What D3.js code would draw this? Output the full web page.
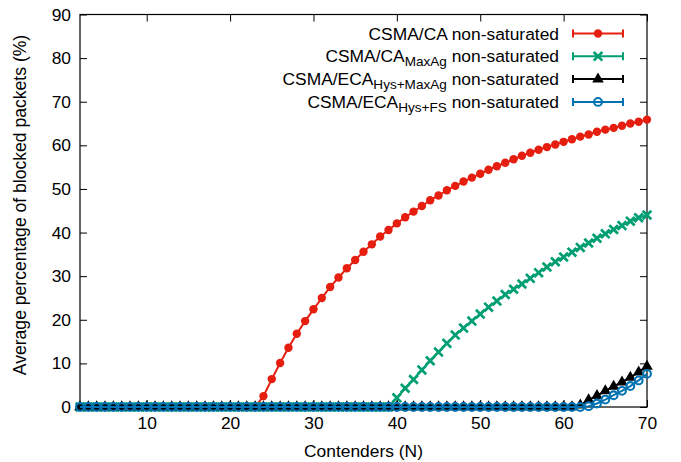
<!DOCTYPE html>
<html>
<head>
<meta charset="utf-8">
<script src="https://cdn.jsdelivr.net/npm/d3@7"></script>
<style>
  html, body { margin: 0; padding: 0; background: #fff; }
  svg { display: block; font-family: "Liberation Sans", Arial, Helvetica, sans-serif; }
</style>
</head>
<body>
<svg id="chart" width="681" height="462"></svg>
<script>
// ---- data ----
const contenders = [2,3,4,5,6,7,8,9,10,11,12,13,14,15,16,17,18,19,20,21,22,23,24,25,26,27,28,29,30,31,32,33,34,35,36,37,38,39,40,41,42,43,44,45,46,47,48,49,50,51,52,53,54,55,56,57,58,59,60,61,62,63,64,65,66,67,68,69,70];

const csmaCA = [0,0,0,0,0,0,0,0,0,0,0,0,0,0,0,0,0,0,0,0,0,0,
  2.5,6.4,10.1,13.6,16.8,19.7,22.4,25.0,27.5,29.7,
  31.8,33.7,35.6,37.3,39.1,40.6,42.1,43.5,44.8,46.1,
  47.4,48.5,49.7,50.7,51.7,52.6,53.5,54.4,55.2,56.0,
  56.8,57.6,58.3,59.0,59.6,60.2,60.8,61.4,62.0,62.5,
  63.1,63.6,64.0,64.5,65.0,65.4,65.9];

const csmaCAMaxAg = [0,0,0,0,0,0,0,0,0,0,0,0,0,0,0,0,0,0,0,0,0,0,0,0,0,0,0,0,0,0,0,0,0,0,0,0,0,0,
  2.1,4.3,6.3,8.5,10.6,12.6,14.6,16.5,18.1,19.7,
  21.3,22.9,24.3,25.8,27.0,28.2,29.5,30.8,32.1,33.3,
  34.4,35.5,36.6,37.6,38.7,39.7,40.7,41.6,42.6,43.4,
  44.0];

const csmaECAHysMaxAg = [0,0,0,0,0,0,0,0,0,0,0,0,0,0,0,0,0,0,0,0,0,0,0,0,0,0,0,0,0,0,0,0,0,0,0,0,0,0,0,0,0,0,0,0,0,0,0,0,0,0,0,0,0,0,0,0,0,0,0,0,
  0.4,1.6,2.6,3.7,4.7,5.7,6.8,8.0,9.3];

const csmaECAHysFS = [0,0,0,0,0,0,0,0,0,0,0,0,0,0,0,0,0,0,0,0,0,0,0,0,0,0,0,0,0,0,0,0,0,0,0,0,0,0,0,0,0,0,0,0,0,0,0,0,0,0,0,0,0,0,0,0,0,0,0,0,0,
  0.2,0.8,1.7,2.7,3.7,4.8,6.1,7.6];

const xTicks = [10,20,30,40,50,60,70];
const yTicks = [0,10,20,30,40,50,60,70,80,90];

const seriesNames = ["CSMA/CA", "CSMA/CA", "CSMA/ECA", "CSMA/ECA"];
const seriesSubs = ["", "MaxAg", "Hys+MaxAg", "Hys+FS"];
const seriesSuffix = " non-saturated";
const seriesColors = ["#e51e10", "#009e73", "#000000", "#0072b2"];
const seriesMarkers = ["dot", "cross", "triangle", "ring"];
const seriesValues = [csmaCA, csmaCAMaxAg, csmaECAHysMaxAg, csmaECAHysFS];

const xTitle = "Contenders (N)";
const yTitle = "Average percentage of blocked packets (%)";

// ---- layout ----
const margin = {left: 80, right: 34, top: 14.5, bottom: 55};
const W = 681, H = 462;
const svg = d3.select("#chart");
const x = d3.scaleLinear().domain([2, 70]).range([margin.left, W - margin.right]);
const y = d3.scaleLinear().domain([0, 90]).range([H - margin.bottom, margin.top]);
const fs = 17.4;

function styleAxis(g, labels) {
  g.select(".domain").remove();
  g.selectAll(".tick line").attr("stroke", "#000").attr("stroke-width", 1);
  g.selectAll("text").attr("font-size", fs).attr("fill", "#000")
    .attr("font-family", "Liberation Sans, Arial, sans-serif");
  if (!labels) g.selectAll("text").remove();
}

svg.append("g").attr("transform", `translate(0,${y(0)})`)
  .call(d3.axisBottom(x).tickValues(xTicks).tickSize(-7).tickPadding(10).tickFormat(d3.format("d")))
  .call(g => styleAxis(g, true));
svg.append("g").attr("transform", `translate(0,${y(90)})`)
  .call(d3.axisTop(x).tickValues(xTicks).tickSize(-7))
  .call(g => styleAxis(g, false));
svg.append("g").attr("transform", `translate(${x(2)},0)`)
  .call(d3.axisLeft(y).tickValues(yTicks).tickSize(-7).tickPadding(9).tickFormat(d3.format("d")))
  .call(g => styleAxis(g, true));
svg.append("g").attr("transform", `translate(${x(70)},0)`)
  .call(d3.axisRight(y).tickValues(yTicks).tickSize(-7))
  .call(g => styleAxis(g, false));

// frame
svg.append("rect")
  .attr("x", x(2)).attr("y", y(90))
  .attr("width", x(70) - x(2)).attr("height", y(0) - y(90))
  .attr("fill", "none").attr("stroke", "#000").attr("stroke-width", 1.2);

// axis titles
svg.append("text")
  .attr("x", (x(2) + x(70)) / 2).attr("y", 457)
  .attr("text-anchor", "middle").attr("font-size", fs).text(xTitle);
svg.append("text")
  .attr("transform", `translate(26,205) rotate(-90)`)
  .attr("text-anchor", "middle").attr("font-size", fs * 1.01).text(yTitle);

// markers
function drawMarker(g, type, color, cx, cy) {
  if (type === "dot") {
    g.append("circle").attr("cx", cx).attr("cy", cy).attr("r", 4.2).attr("fill", color);
  } else if (type === "ring") {
    g.append("circle").attr("cx", cx).attr("cy", cy).attr("r", 3.9)
      .attr("fill", "none").attr("stroke", color).attr("stroke-width", 2.1);
  } else if (type === "triangle") {
    g.append("path")
      .attr("d", d3.symbol().type(d3.symbolTriangle).size(58)())
      .attr("transform", `translate(${cx},${cy})`).attr("fill", color);
  } else if (type === "cross") {
    const s = 4.3;
    g.append("path")
      .attr("d", `M${cx - s},${cy - s}L${cx + s},${cy + s}M${cx - s},${cy + s}L${cx + s},${cy - s}`)
      .attr("stroke", color).attr("stroke-width", 2.7).attr("fill", "none");
  }
}

const line = d3.line().x(d => x(d[0])).y(d => y(d[1]));
seriesValues.forEach((vals, i) => {
  const pts = contenders.map((n, k) => [n, vals[k]]);
  const g = svg.append("g");
  g.append("path").attr("d", line(pts)).attr("fill", "none")
    .attr("stroke", seriesColors[i]).attr("stroke-width", 2);
  pts.forEach(p => drawMarker(g, seriesMarkers[i], seriesColors[i], x(p[0]), y(p[1])));
});

// legend
const legTextX = 559, legY0 = 33.5, legDy = 22.8;
seriesValues.forEach((vals, i) => {
  const ly = legY0 + i * legDy;
  const g = svg.append("g");
  const t = g.append("text").attr("x", legTextX).attr("y", ly + 6)
    .attr("text-anchor", "end").attr("font-size", fs);
  t.append("tspan").text(seriesNames[i]);
  if (seriesSubs[i]) {
    t.append("tspan").attr("font-size", fs * 0.78).attr("dy", 4).text(seriesSubs[i]);
    t.append("tspan").attr("dy", -4).text(seriesSuffix);
  } else {
    t.append("tspan").text(seriesSuffix);
  }
  const x0 = 573, x1 = 623;
  g.append("line").attr("x1", x0).attr("x2", x1).attr("y1", ly).attr("y2", ly)
    .attr("stroke", seriesColors[i]).attr("stroke-width", 2);
  [x0, x1].forEach(xx => g.append("line").attr("x1", xx).attr("x2", xx)
    .attr("y1", ly - 4).attr("y2", ly + 4).attr("stroke", seriesColors[i]).attr("stroke-width", 2));
  drawMarker(g, seriesMarkers[i], seriesColors[i], (x0 + x1) / 2, ly);
});
</script>
</body>
</html>
